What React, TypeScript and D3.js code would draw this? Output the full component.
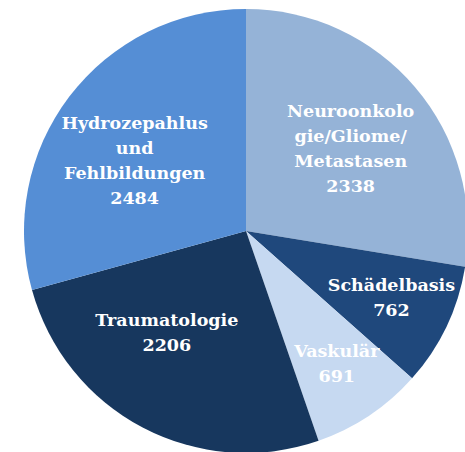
import { arc, pie } from "d3";

const categories = [
  "Neuroonkologie/Gliome/Metastasen",
  "Schädelbasis",
  "Vaskulär",
  "Traumatologie",
  "Hydrozepahlus und Fehlbildungen",
];
const values = [2338, 762, 691, 2206, 2484];
// label lines as they wrap in the picture
const labelLines = [
  ["Neuroonkolo", "gie/Gliome/", "Metastasen"],
  ["Schädelbasis"],
  ["Vaskulär"],
  ["Traumatologie"],
  ["Hydrozepahlus", "und", "Fehlbildungen"],
];
const colors = ["#95b3d7", "#1f487c", "#c6d9f1", "#17375e", "#558ed5"];

// nudges from the centroid, px
const labelNudge = [
  [-2, 8],
  [19, 6],
  [13, 16],
  [-14, -23],
  [0, 14],
];

const W = 465;
const H = 452;
const cx = 246;
const cy = 231;
const R = 222;
const lineH = 25;

export default function App() {
  const data = categories.map((c, i) => ({ name: c, value: values[i], i }));
  const arcs = pie<any>()
    .sort(null)
    .value((d) => d.value)(data);
  const path = arc<any>().innerRadius(0).outerRadius(R);
  const labelArc = arc<any>().innerRadius(140).outerRadius(140);

  return (
    <svg
      width={W}
      height={H}
      style={{ position: "absolute", left: 0, top: 0 }}
    >
      <g transform={`translate(${cx},${cy})`}>
        {arcs.map((a) => (
          <path key={a.data.name} d={path(a) || ""} fill={colors[a.data.i]} />
        ))}
        {arcs.map((a) => {
          const [x, y] = labelArc.centroid(a);
          const i = a.data.i;
          const lines = [...labelLines[i], String(values[i])];
          const lx = x + labelNudge[i][0];
          const ly = y + labelNudge[i][1];
          const y0 = ly - ((lines.length - 1) * lineH) / 2 + 6.5;
          return (
            <text
              key={"l" + a.data.name}
              textAnchor="middle"
              fill="#ffffff"
              fontFamily="DejaVu Serif"
              fontWeight="bold"
              fontSize={17.5}
            >
              {lines.map((t, k) => (
                <tspan key={k} x={lx} y={y0 + k * lineH}>
                  {t}
                </tspan>
              ))}
            </text>
          );
        })}
      </g>
    </svg>
  );
}
